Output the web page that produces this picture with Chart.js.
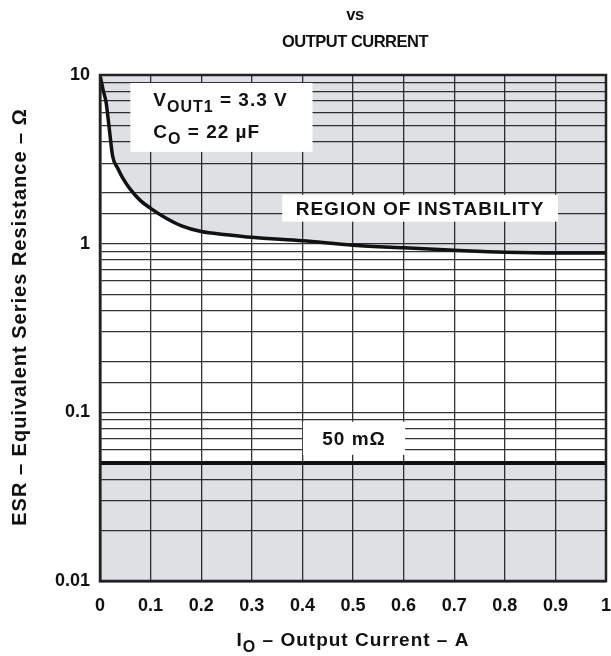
<!DOCTYPE html>
<html>
<head>
<meta charset="utf-8">
<script src="https://cdn.jsdelivr.net/npm/chart.js@4"></script>
<style>
  html, body { margin: 0; padding: 0; background: #fff; overflow: hidden; }
  #wrap { width: 611px; height: 656px; position: relative; }
  canvas { display: block; }
</style>
</head>
<body>
<div id="wrap"><canvas id="grafico"></canvas></div>
<script>
// ESR stability boundary vs output current
const currentA = [0, 0.006, 0.012, 0.018, 0.025, 0.035, 0.045, 0.06, 0.08, 0.1, 0.13, 0.16, 0.2, 0.25, 0.3, 0.4, 0.5, 0.6, 0.7, 0.8, 0.9, 1.0];
const esrOhm   = [10, 8.2, 6.9, 4.9, 3.3, 2.8, 2.45, 2.1, 1.8, 1.62, 1.42, 1.28, 1.18, 1.13, 1.09, 1.04, 0.98, 0.945, 0.915, 0.89, 0.88, 0.88];

// lower ESR limit (50 mOhm)
const limitX = [0, 1];
const limitY = [0.05, 0.05];

const xTickLabels = ['0', '0.1', '0.2', '0.3', '0.4', '0.5', '0.6', '0.7', '0.8', '0.9', '1'];
const yTickValues = [0.01, 0.1, 1, 10];
const yTickLabels = ['0.01', '0.1', '1', '10'];

const FONT = '"Liberation Sans", Arial, Helvetica, sans-serif';
const GRAY = 'rgba(0, 10, 30, 0.125)';

// text with subscripts: parts = [[text, isSub], ...]
function richText(ctx, parts, x, y, size, align, spacing) {
  const subSize = Math.round(size * 0.82);
  ctx.letterSpacing = (spacing || 0) + 'px';
  let total = 0;
  parts.forEach(([t, sub]) => {
    ctx.font = `bold ${sub ? subSize : size}px ${FONT}`;
    total += ctx.measureText(t).width;
  });
  let cx = align === 'center' ? x - total / 2 : x;
  ctx.textAlign = 'left';
  ctx.textBaseline = 'alphabetic';
  parts.forEach(([t, sub]) => {
    ctx.font = `bold ${sub ? subSize : size}px ${FONT}`;
    ctx.fillText(t, cx, sub ? y + size * 0.3 : y);
    cx += ctx.measureText(t).width;
  });
  ctx.letterSpacing = '0px';
}

const overlay = {
  id: 'overlay',
  afterDatasetsDraw(chart) {
    const { ctx, chartArea: a, scales: { x, y } } = chart;
    ctx.save();

    // white label boxes
    const box = (x0, x1, y0, y1) => {
      const px0 = x.getPixelForValue(x0), px1 = x.getPixelForValue(x1);
      const py0 = y.getPixelForValue(y0), py1 = y.getPixelForValue(y1);
      ctx.fillStyle = '#fff';
      ctx.fillRect(px0, py0, px1 - px0, py1 - py0);
      ctx.fillStyle = '#111';
      return { px0, px1, py0, py1 };
    };

    const b1 = box(0.06, 0.42, 8.97, 3.5);
    richText(ctx, [['V', false], ['OUT1', true], [' = 3.3 V', false]], b1.px0 + 23, b1.py0 + 23, 19, 'left', 1);
    richText(ctx, [['C', false], ['O', true], [' = 22 µF', false]], b1.px0 + 23, b1.py0 + 55, 19, 'left', 1);

    const b2 = box(0.36, 0.905, 1.95, 1.35);
    richText(ctx, [['REGION OF INSTABILITY', false]], (b2.px0 + b2.px1) / 2, (b2.py0 + b2.py1) / 2 + 7, 19, 'center', 1);

    const b3 = box(0.401, 0.603, 0.088, 0.056);
    richText(ctx, [['50 mΩ', false]], (b3.px0 + b3.px1) / 2, (b3.py0 + b3.py1) / 2 + 7, 19, 'center', 1);

    // frame
    ctx.strokeStyle = '#222';
    ctx.lineWidth = 2.5;
    ctx.strokeRect(a.left, a.top, a.right - a.left, a.bottom - a.top);
    ctx.restore();
  },
  afterDraw(chart) {
    const { ctx, chartArea: a } = chart;
    const cx = (a.left + a.right) / 2;
    ctx.save();
    ctx.fillStyle = '#111';
    richText(ctx, [['vs', false]], cx + 2, 20, 16.5, 'center', -0.5);
    richText(ctx, [['OUTPUT CURRENT', false]], cx + 2, 47, 16.5, 'center', -0.5);

    richText(ctx, [['I', false], ['O', true], [' – Output Current – A', false]], cx, 646, 19, 'center', 1);

    ctx.translate(19, 317);
    ctx.rotate(-Math.PI / 2);
    richText(ctx, [['ESR – Equivalent Series Resistance – Ω', false]], 0, 7, 20, 'center', 1);
    ctx.restore();
  }
};

const gridOpts = { color: '#333', lineWidth: 1.3, drawTicks: false };
const tickFont = { family: FONT, size: 18, weight: 'bold' };

new Chart(document.getElementById('grafico'), {
  type: 'line',
  data: {
    datasets: [
      {
        data: currentA.map((v, i) => ({ x: v, y: esrOhm[i] })),
        borderColor: '#111',
        borderWidth: 3.5,
        backgroundColor: GRAY,
        fill: 'end',
        pointRadius: 0,
        cubicInterpolationMode: 'monotone'
      },
      {
        data: limitX.map((v, i) => ({ x: v, y: limitY[i] })),
        borderColor: '#111',
        borderWidth: 4,
        backgroundColor: GRAY,
        fill: 'start',
        pointRadius: 0
      }
    ]
  },
  options: {
    responsive: true,
    maintainAspectRatio: false,
    animation: false,
    layout: { padding: { top: 75, right: 5, bottom: 0, left: 0 } },
    plugins: { legend: { display: false }, tooltip: { enabled: false } },
    scales: {
      x: {
        type: 'linear',
        min: 0,
        max: 1,
        grid: gridOpts,
        border: { display: true, color: '#222', width: 2.5 },
        ticks: {
          stepSize: 0.1,
          autoSkip: false,
          maxRotation: 0,
          padding: 14,
          color: '#111',
          font: tickFont,
          callback: (v, i) => xTickLabels[i]
        },
        afterFit: s => { s.height = 75; s.paddingLeft = 0; s.paddingRight = 0; }
      },
      y: {
        type: 'logarithmic',
        min: 0.01,
        max: 10,
        grid: gridOpts,
        border: { display: true, color: '#222', width: 2.5 },
        ticks: {
          autoSkip: false,
          padding: 10,
          color: '#111',
          font: tickFont,
          callback: v => {
            const k = yTickValues.findIndex(t => Math.abs(t - v) / t < 1e-6);
            return k >= 0 ? yTickLabels[k] : '';
          }
        },
        afterFit: s => { s.width = 100; s.paddingTop = 0; s.paddingBottom = 0; }
      }
    }
  },
  plugins: [overlay]
});
</script>
</body>
</html>
